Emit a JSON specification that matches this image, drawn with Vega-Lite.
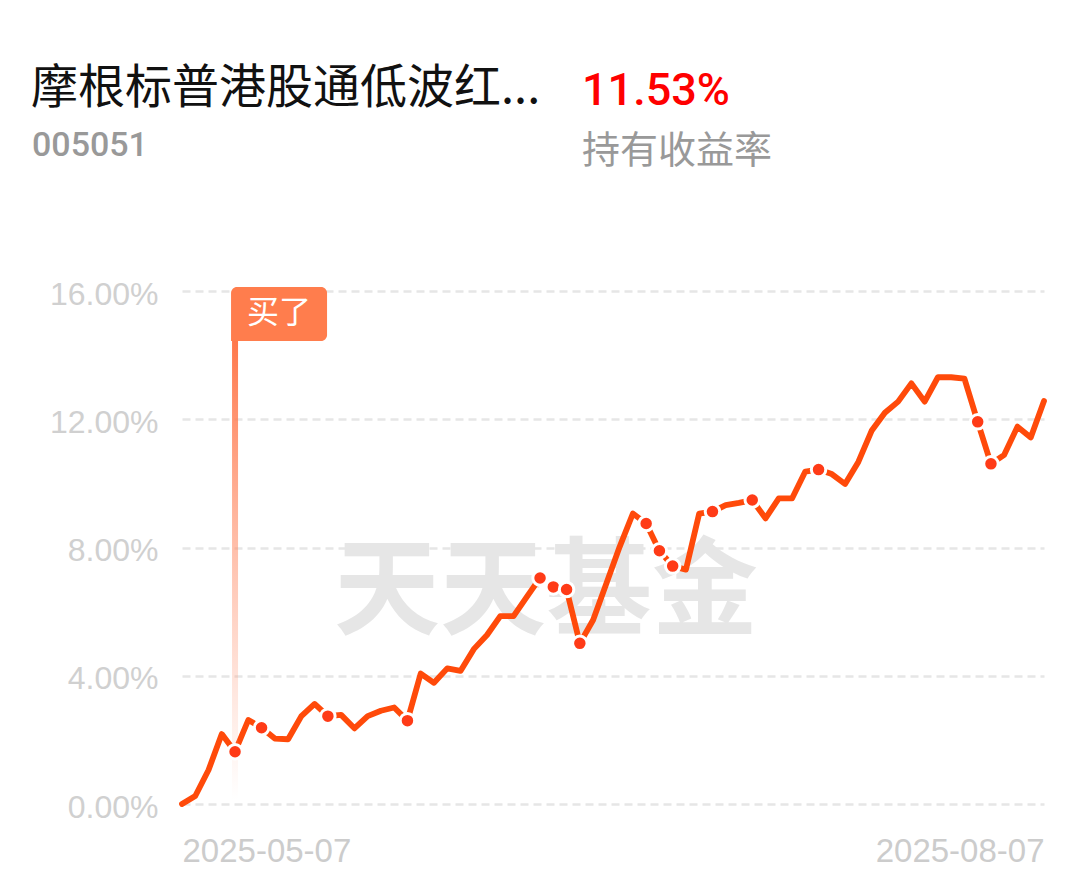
{
  "$schema": "https://vega.github.io/schema/vega-lite/v6.json",
  "autosize": {"type": "none"},
  "padding": {"left": 182, "top": 291, "right": 45, "bottom": 77},
  "width": 862,
  "height": 513,
  "background": "#ffffff",
  "config": {"view": {"stroke": null}, "font": "Liberation Sans"},
  "datasets": {
    "nav": [
      {"date": "2025-05-07", "v": 0.00, "dot": false},
      {"date": "2025-05-08", "v": 0.25, "dot": false},
      {"date": "2025-05-09", "v": 1.06, "dot": false},
      {"date": "2025-05-12", "v": 2.18, "dot": false},
      {"date": "2025-05-13", "v": 1.63, "dot": true},
      {"date": "2025-05-14", "v": 2.62, "dot": false},
      {"date": "2025-05-15", "v": 2.38, "dot": true},
      {"date": "2025-05-16", "v": 2.04, "dot": false},
      {"date": "2025-05-19", "v": 2.02, "dot": false},
      {"date": "2025-05-20", "v": 2.74, "dot": false},
      {"date": "2025-05-21", "v": 3.12, "dot": false},
      {"date": "2025-05-22", "v": 2.74, "dot": true},
      {"date": "2025-05-23", "v": 2.78, "dot": false},
      {"date": "2025-05-26", "v": 2.36, "dot": false},
      {"date": "2025-05-27", "v": 2.74, "dot": false},
      {"date": "2025-05-28", "v": 2.91, "dot": false},
      {"date": "2025-05-29", "v": 3.01, "dot": false},
      {"date": "2025-05-30", "v": 2.60, "dot": true},
      {"date": "2025-06-03", "v": 4.07, "dot": false},
      {"date": "2025-06-04", "v": 3.78, "dot": false},
      {"date": "2025-06-05", "v": 4.23, "dot": false},
      {"date": "2025-06-06", "v": 4.15, "dot": false},
      {"date": "2025-06-09", "v": 4.83, "dot": false},
      {"date": "2025-06-10", "v": 5.27, "dot": false},
      {"date": "2025-06-11", "v": 5.86, "dot": false},
      {"date": "2025-06-12", "v": 5.86, "dot": false},
      {"date": "2025-06-13", "v": 6.46, "dot": false},
      {"date": "2025-06-16", "v": 7.05, "dot": true},
      {"date": "2025-06-17", "v": 6.77, "dot": true},
      {"date": "2025-06-18", "v": 6.69, "dot": true},
      {"date": "2025-06-19", "v": 5.01, "dot": true},
      {"date": "2025-06-20", "v": 5.74, "dot": false},
      {"date": "2025-06-23", "v": 6.88, "dot": false},
      {"date": "2025-06-24", "v": 8.02, "dot": false},
      {"date": "2025-06-25", "v": 9.06, "dot": false},
      {"date": "2025-06-26", "v": 8.75, "dot": true},
      {"date": "2025-06-27", "v": 7.90, "dot": true},
      {"date": "2025-06-30", "v": 7.42, "dot": true},
      {"date": "2025-07-01", "v": 7.31, "dot": false},
      {"date": "2025-07-02", "v": 9.06, "dot": false},
      {"date": "2025-07-03", "v": 9.12, "dot": true},
      {"date": "2025-07-04", "v": 9.32, "dot": false},
      {"date": "2025-07-07", "v": 9.39, "dot": false},
      {"date": "2025-07-08", "v": 9.48, "dot": true},
      {"date": "2025-07-09", "v": 8.91, "dot": false},
      {"date": "2025-07-10", "v": 9.53, "dot": false},
      {"date": "2025-07-11", "v": 9.53, "dot": false},
      {"date": "2025-07-14", "v": 10.37, "dot": false},
      {"date": "2025-07-15", "v": 10.43, "dot": true},
      {"date": "2025-07-16", "v": 10.29, "dot": false},
      {"date": "2025-07-17", "v": 9.98, "dot": false},
      {"date": "2025-07-18", "v": 10.67, "dot": false},
      {"date": "2025-07-21", "v": 11.64, "dot": false},
      {"date": "2025-07-22", "v": 12.20, "dot": false},
      {"date": "2025-07-23", "v": 12.55, "dot": false},
      {"date": "2025-07-24", "v": 13.12, "dot": false},
      {"date": "2025-07-25", "v": 12.55, "dot": false},
      {"date": "2025-07-28", "v": 13.31, "dot": false},
      {"date": "2025-07-29", "v": 13.31, "dot": false},
      {"date": "2025-07-30", "v": 13.27, "dot": false},
      {"date": "2025-07-31", "v": 11.92, "dot": true},
      {"date": "2025-08-01", "v": 10.61, "dot": true},
      {"date": "2025-08-04", "v": 10.89, "dot": false},
      {"date": "2025-08-05", "v": 11.77, "dot": false},
      {"date": "2025-08-06", "v": 11.43, "dot": false},
      {"date": "2025-08-07", "v": 12.57, "dot": false}
    ],
    "buy": [{"date": "2025-05-13", "label": "买了"}],
    "header": [{"name": "摩根标普港股通低波红...", "code": "005051", "ret": "11.53%", "retLabel": "持有收益率", "wm": "天天基金"}]
  },
  "layer": [
    {
      "data": {"name": "header"},
      "mark": {"type": "text", "font": "Noto Sans CJK SC", "fontWeight": "bold", "fontSize": 106, "color": "#e6e6e6", "align": "center", "baseline": "middle"},
      "encoding": {"text": {"field": "wm"}, "x": {"value": 364}, "y": {"value": 303}}
    },
    {
      "data": {"name": "nav"},
      "mark": {"type": "line", "color": "#ff4a0a", "strokeWidth": 5.8, "strokeCap": "round", "strokeJoin": "round"},
      "encoding": {
        "x": {
          "field": "date", "type": "ordinal", "sort": null,
          "scale": {"type": "point", "padding": 0},
          "axis": {
            "title": null, "values": ["2025-05-07", "2025-08-07"], "labelAngle": 0,
            "domain": false, "ticks": false, "grid": false,
            "labelFont": "Liberation Sans", "labelFontSize": 33, "labelColor": "#cccccc",
            "labelPadding": 31, "labelBaseline": "top",
            "labelAlign": {"condition": {"test": "datum.value == '2025-05-07'", "value": "left"}, "value": "right"}
          }
        },
        "y": {
          "field": "v", "type": "quantitative",
          "scale": {"domain": [0, 16], "nice": false, "zero": true},
          "axis": {
            "title": null, "values": [0, 4, 8, 12, 16],
            "labelExpr": "format(datum.value, '.2f') + '%'",
            "domain": false, "ticks": false,
            "grid": true, "gridColor": "#e6e6e6", "gridWidth": 2.5, "gridDash": [8, 5],
            "labelFont": "Liberation Sans", "labelFontSize": 32, "labelColor": "#d0d0d0",
            "labelPadding": 24, "labelBaseline": "middle", "labelOffset": 3
          }
        }
      }
    },
    {
      "data": {"name": "buy"},
      "mark": {
        "type": "bar", "width": 6,
        "color": {"gradient": "linear", "x1": 0, "y1": 0, "x2": 0, "y2": 1,
          "stops": [{"offset": 0, "color": "rgba(255,120,75,1)"}, {"offset": 1, "color": "rgba(255,160,130,0)"}]}
      },
      "encoding": {
        "x": {"field": "date", "type": "ordinal"},
        "y": {"value": 50},
        "y2": {"value": 509}
      }
    },
    {
      "data": {"name": "nav"},
      "transform": [{"filter": "datum.dot"}],
      "mark": {"type": "circle", "color": "#ff3b17", "opacity": 1, "size": 210, "stroke": "#ffffff", "strokeWidth": 3},
      "encoding": {
        "x": {"field": "date", "type": "ordinal"},
        "y": {"field": "v", "type": "quantitative"}
      }
    },
    {
      "data": {"name": "buy"},
      "mark": {"type": "bar", "width": 96, "xOffset": 44, "color": "#ff7d4d", "cornerRadius": 6, "cornerRadiusBottomLeft": 0},
      "encoding": {
        "x": {"field": "date", "type": "ordinal"},
        "y": {"value": -4},
        "y2": {"value": 50}
      }
    },
    {
      "data": {"name": "buy"},
      "mark": {"type": "text", "xOffset": 44, "color": "#ffffff", "font": "Noto Sans CJK SC", "fontSize": 32, "align": "center", "baseline": "middle"},
      "encoding": {
        "x": {"field": "date", "type": "ordinal"},
        "y": {"value": 22},
        "text": {"field": "label"}
      }
    },
    {
      "data": {"name": "header"},
      "mark": {"type": "text", "font": "Noto Sans CJK SC", "fontSize": 47, "color": "#111111", "align": "left", "baseline": "alphabetic"},
      "encoding": {"text": {"field": "name"}, "x": {"value": -151}, "y": {"value": -188}}
    },
    {
      "data": {"name": "header"},
      "mark": {"type": "text", "font": "Roboto", "fontWeight": 500, "fontSize": 34, "color": "#999999", "align": "left", "baseline": "alphabetic"},
      "encoding": {"text": {"field": "code"}, "x": {"value": -150}, "y": {"value": -135}}
    },
    {
      "data": {"name": "header"},
      "mark": {"type": "text", "font": "Roboto", "fontWeight": 500, "fontSize": 45, "color": "#ff0000", "align": "left", "baseline": "alphabetic"},
      "encoding": {"text": {"field": "ret"}, "x": {"value": 400}, "y": {"value": -186}}
    },
    {
      "data": {"name": "header"},
      "mark": {"type": "text", "font": "Noto Sans CJK SC", "fontSize": 38, "color": "#999999", "align": "left", "baseline": "alphabetic"},
      "encoding": {"text": {"field": "retLabel"}, "x": {"value": 400}, "y": {"value": -128}}
    }
  ]
}
